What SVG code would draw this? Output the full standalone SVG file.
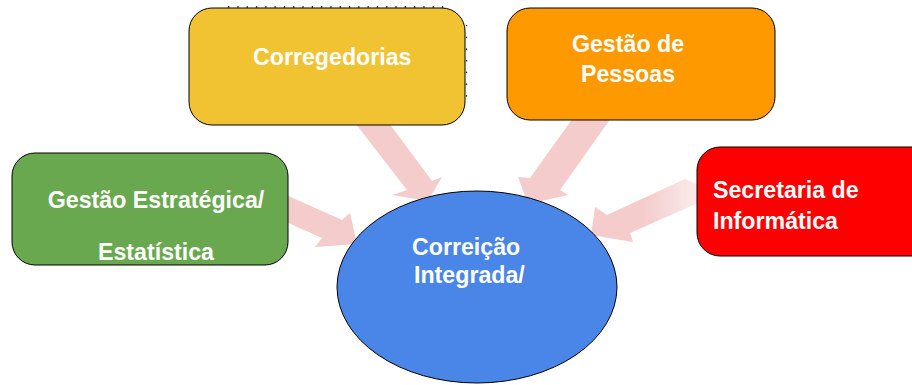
<svg xmlns="http://www.w3.org/2000/svg" width="912" height="385" viewBox="0 0 912 385">
  <defs>
    <linearGradient id="fade4" gradientUnits="userSpaceOnUse" x1="645" y1="0" x2="692" y2="0">
      <stop offset="0" stop-color="#F4CCCC" stop-opacity="1"/>
      <stop offset="1" stop-color="#F4CCCC" stop-opacity="0.45"/>
    </linearGradient>
  </defs>
  <style>
    .box { stroke: #000; stroke-width: 1; }
    .arrow { fill: #F4CCCC; stroke: none; }
    .lbl { font-family: "Liberation Sans", Arial, sans-serif; font-weight: bold; font-size: 23.2px; fill: #FFFFFF; }
    .dots { fill: none; stroke: #000; stroke-width: 1.3; }
  </style>
  <rect width="912" height="385" fill="#FFFFFF"/>

  <g id="connectors">
    <polygon class="arrow" points="352,119 407,190 392,195 428,201 442,177 432,181 386,119"/>
    <polygon class="arrow" points="573,118 530,178 518,177 528,204 568,195 560,190 611,118"/>
    <polygon class="arrow" points="284,194 342,220 350,213 357,244 315,247 322,238 284,221"/>
    <polygon points="685,179 607,215 595,207 591,235 633,242 630,233 698,203 698,185" fill="url(#fade4)"/>
  </g>

  <g id="node-corregedorias">
    <line class="dots" x1="228" y1="7" x2="444" y2="7" stroke-dasharray="1.3 8"/>
    <line class="dots" x1="466.5" y1="25" x2="466.5" y2="107" stroke-dasharray="1.3 10.4"/>
    <rect class="box" x="189" y="8" width="276" height="117" rx="23" ry="23" fill="#F1C232"/>
    <text class="lbl" x="253" y="65">Corregedorias</text>
  </g>

  <g id="node-gestao-pessoas">
    <rect class="box" x="507" y="8" width="268" height="112" rx="23" ry="23" fill="#FF9900"/>
    <text class="lbl" x="628" y="52" text-anchor="middle">Gestão de</text>
    <text class="lbl" x="628" y="82" text-anchor="middle">Pessoas</text>
  </g>

  <g id="node-secretaria">
    <rect class="box" x="697" y="147" width="240" height="109" rx="23" ry="23" fill="#FF0000"/>
    <text class="lbl" x="713" y="198">Secretaria de</text>
    <text class="lbl" x="713" y="229">Informática</text>
  </g>

  <g id="node-gestao-estrategica">
    <rect class="box" x="12" y="153" width="276" height="112" rx="23" ry="23" fill="#6AA84F"/>
    <text class="lbl" x="156" y="208" text-anchor="middle">Gestão Estratégica/</text>
    <text class="lbl" x="156" y="260" text-anchor="middle">Estatística</text>
  </g>

  <g id="node-correicao">
    <ellipse class="box" cx="477" cy="287" rx="140" ry="96" fill="#4A86E8"/>
    <text class="lbl" x="412" y="255">Correição</text>
    <text class="lbl" x="414" y="283">Integrada/</text>
  </g>
</svg>
